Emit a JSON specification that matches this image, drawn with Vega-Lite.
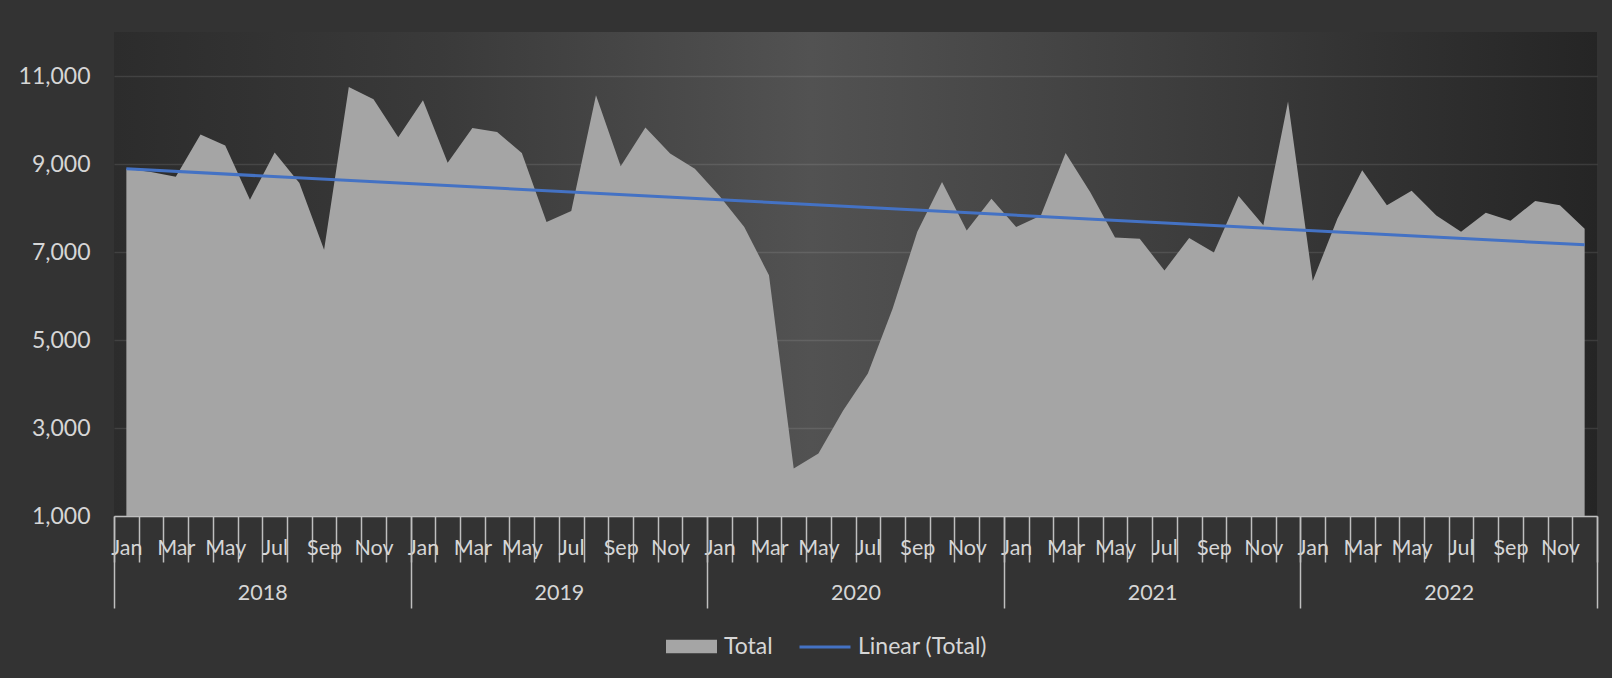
{
  "$schema": "https://vega.github.io/schema/vega-lite/v6.json",
  "autosize": {"type": "none"},
  "padding": {"left": 114, "right": 15, "top": 32, "bottom": 162},
  "width": 1483,
  "height": 484,
  "background": "#333333",
  "config": {
    "view": {
      "stroke": null,
      "fill": {
        "gradient": "linear", "x1": 0, "y1": 0, "x2": 1, "y2": 0,
        "stops": [
          {"offset": 0, "color": "#2c2c2c"},
          {"offset": 0.22, "color": "#3a3a3a"},
          {"offset": 0.47, "color": "#525252"},
          {"offset": 0.72, "color": "#3d3d3d"},
          {"offset": 1, "color": "#252525"}
        ]
      }
    },
    "axis": {"labelFont": "Lato", "labelFontSize": 21.5, "labelColor": "#d6d6d6"},
    "legend": {"labelFont": "Lato", "labelFontSize": 23, "labelColor": "#d6d6d6"}
  },
  "data": {
    "values": [
      {"i": 0, "month": "Jan 2018", "v": 8890},
      {"i": 1, "month": "Feb 2018", "v": 8820},
      {"i": 2, "month": "Mar 2018", "v": 8710},
      {"i": 3, "month": "Apr 2018", "v": 9670},
      {"i": 4, "month": "May 2018", "v": 9420},
      {"i": 5, "month": "Jun 2018", "v": 8190},
      {"i": 6, "month": "Jul 2018", "v": 9260},
      {"i": 7, "month": "Aug 2018", "v": 8570},
      {"i": 8, "month": "Sep 2018", "v": 7050},
      {"i": 9, "month": "Oct 2018", "v": 10750},
      {"i": 10, "month": "Nov 2018", "v": 10470},
      {"i": 11, "month": "Dec 2018", "v": 9610},
      {"i": 12, "month": "Jan 2019", "v": 10450},
      {"i": 13, "month": "Feb 2019", "v": 9030},
      {"i": 14, "month": "Mar 2019", "v": 9820},
      {"i": 15, "month": "Apr 2019", "v": 9730},
      {"i": 16, "month": "May 2019", "v": 9250},
      {"i": 17, "month": "Jun 2019", "v": 7680},
      {"i": 18, "month": "Jul 2019", "v": 7930},
      {"i": 19, "month": "Aug 2019", "v": 10560},
      {"i": 20, "month": "Sep 2019", "v": 8950},
      {"i": 21, "month": "Oct 2019", "v": 9830},
      {"i": 22, "month": "Nov 2019", "v": 9240},
      {"i": 23, "month": "Dec 2019", "v": 8890},
      {"i": 24, "month": "Jan 2020", "v": 8270},
      {"i": 25, "month": "Feb 2020", "v": 7570},
      {"i": 26, "month": "Mar 2020", "v": 6470},
      {"i": 27, "month": "Apr 2020", "v": 2080},
      {"i": 28, "month": "May 2020", "v": 2420},
      {"i": 29, "month": "Jun 2020", "v": 3400},
      {"i": 30, "month": "Jul 2020", "v": 4240},
      {"i": 31, "month": "Aug 2020", "v": 5710},
      {"i": 32, "month": "Sep 2020", "v": 7460},
      {"i": 33, "month": "Oct 2020", "v": 8590},
      {"i": 34, "month": "Nov 2020", "v": 7490},
      {"i": 35, "month": "Dec 2020", "v": 8210},
      {"i": 36, "month": "Jan 2021", "v": 7570},
      {"i": 37, "month": "Feb 2021", "v": 7830},
      {"i": 38, "month": "Mar 2021", "v": 9250},
      {"i": 39, "month": "Apr 2021", "v": 8360},
      {"i": 40, "month": "May 2021", "v": 7330},
      {"i": 41, "month": "Jun 2021", "v": 7300},
      {"i": 42, "month": "Jul 2021", "v": 6580},
      {"i": 43, "month": "Aug 2021", "v": 7320},
      {"i": 44, "month": "Sep 2021", "v": 6990},
      {"i": 45, "month": "Oct 2021", "v": 8270},
      {"i": 46, "month": "Nov 2021", "v": 7610},
      {"i": 47, "month": "Dec 2021", "v": 10420},
      {"i": 48, "month": "Jan 2022", "v": 6340},
      {"i": 49, "month": "Feb 2022", "v": 7760},
      {"i": 50, "month": "Mar 2022", "v": 8860},
      {"i": 51, "month": "Apr 2022", "v": 8060},
      {"i": 52, "month": "May 2022", "v": 8390},
      {"i": 53, "month": "Jun 2022", "v": 7830},
      {"i": 54, "month": "Jul 2022", "v": 7460},
      {"i": 55, "month": "Aug 2022", "v": 7890},
      {"i": 56, "month": "Sep 2022", "v": 7710},
      {"i": 57, "month": "Oct 2022", "v": 8160},
      {"i": 58, "month": "Nov 2022", "v": 8060},
      {"i": 59, "month": "Dec 2022", "v": 7530}
    ]
  },
  "resolve": {"axis": {"x": "independent"}, "scale": {"color": "independent"}, "legend": {"color": "independent"}},
  "layer": [
    {
      "mark": {"type": "area", "opacity": 1},
      "encoding": {
        "x": {
          "field": "i", "type": "quantitative",
          "scale": {"domain": [-0.5, 59.5], "nice": false, "zero": false},
          "axis": {
            "orient": "bottom",
            "title": null,
            "grid": false,
            "values": [-0.5,0,0.5,1,1.5,2,2.5,3,3.5,4,4.5,5,5.5,6,6.5,7,7.5,8,8.5,9,9.5,10,10.5,11,11.5,12,12.5,13,13.5,14,14.5,15,15.5,16,16.5,17,17.5,18,18.5,19,19.5,20,20.5,21,21.5,22,22.5,23,23.5,24,24.5,25,25.5,26,26.5,27,27.5,28,28.5,29,29.5,30,30.5,31,31.5,32,32.5,33,33.5,34,34.5,35,35.5,36,36.5,37,37.5,38,38.5,39,39.5,40,40.5,41,41.5,42,42.5,43,43.5,44,44.5,45,45.5,46,46.5,47,47.5,48,48.5,49,49.5,50,50.5,51,51.5,52,52.5,53,53.5,54,54.5,55,55.5,56,56.5,57,57.5,58,58.5,59,59.5],
            "labelExpr": "datum.value % 2 == 0 ? ['Jan','Mar','May','Jul','Sep','Nov'][(datum.value % 12) / 2] : ''",
            "labelOverlap": false,
            "labelFlush": false,
            "labelBound": false,
            "labelBaseline": "middle",
            "labelPadding": -14,
            "tickSize": 46,
            "tickWidth": 1.5,
            "tickColor": "#bfbfbf",
            "tickOpacity": {"condition": {"test": "datum.value % 1 != 0", "value": 1}, "value": 0},
            "domain": true,
            "domainColor": "#bfbfbf",
            "domainWidth": 1.5
          }
        },
        "y": {
          "field": "v", "type": "quantitative",
          "scale": {"domain": [1000, 12000], "nice": false, "zero": false},
          "axis": {
            "title": null,
            "values": [1000, 3000, 5000, 7000, 9000, 11000],
            "format": ",.0f",
            "grid": true,
            "gridColor": "#ffffff",
            "gridOpacity": 0.1,
            "gridWidth": 1.3,
            "ticks": false,
            "domain": false,
            "labelPadding": 24,
            "labelFontSize": 23
          }
        },
        "y2": {"datum": 1000},
        "color": {
          "datum": "Total",
          "type": "nominal",
          "scale": {"domain": ["Total"], "range": ["#a5a5a5"]},
          "legend": {
            "title": null,
            "orient": "none",
            "direction": "horizontal",
            "legendX": 551,
            "legendY": 588,
            "padding": 0,
            "symbolSize": 2601,
            "symbolType": "M-1,-0.265H1V0.265H-1Z",
            "symbolOpacity": 1,
            "labelOffset": 6
          }
        }
      }
    },
    {
      "transform": [{"regression": "v", "on": "i"}],
      "mark": {"type": "line", "strokeWidth": 3},
      "encoding": {
        "x": {
          "field": "i", "type": "quantitative",
          "axis": {
            "orient": "bottom",
            "title": null,
            "grid": false,
            "values": [-0.5, 5.5, 11.5, 17.5, 23.5, 29.5, 35.5, 41.5, 47.5, 53.5, 59.5],
            "labelExpr": "(datum.value - 5.5) % 12 == 0 ? '' + (2018 + (datum.value - 5.5) / 12) : ''",
            "labelOverlap": false,
            "labelFlush": false,
            "labelBound": false,
            "labelBaseline": "middle",
            "labelPadding": -14.5,
            "tickSize": 92,
            "tickWidth": 1.5,
            "tickColor": "#bfbfbf",
            "tickOpacity": {"condition": {"test": "(datum.value + 0.5) % 12 == 0", "value": 1}, "value": 0},
            "domain": false
          }
        },
        "y": {"field": "v", "type": "quantitative"},
        "color": {
          "datum": "Linear (Total)",
          "type": "nominal",
          "scale": {"domain": ["Linear (Total)"], "range": ["#4472c4"]},
          "legend": {
            "title": null,
            "orient": "none",
            "direction": "horizontal",
            "legendX": 684,
            "legendY": 588,
            "padding": 0,
            "symbolSize": 2601,
            "symbolType": "stroke",
            "symbolStrokeWidth": 3,
            "symbolOpacity": 1,
            "labelOffset": 6
          }
        }
      }
    }
  ]
}
